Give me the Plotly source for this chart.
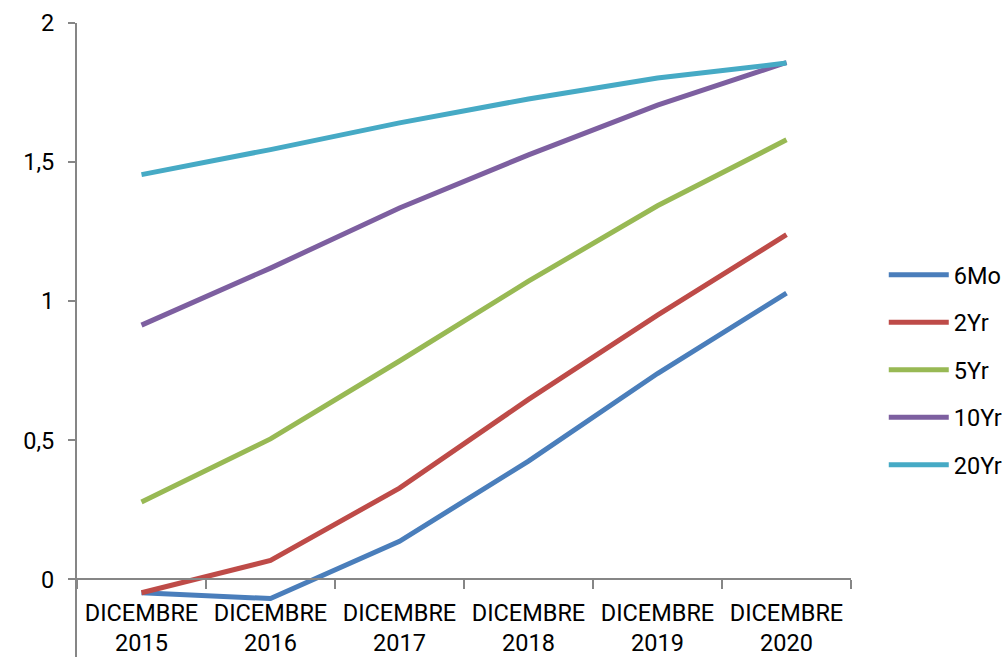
import plotly.graph_objects as go

# Yield curve snapshots, end of each year
categories = ["DICEMBRE<br>2015", "DICEMBRE<br>2016", "DICEMBRE<br>2017",
              "DICEMBRE<br>2018", "DICEMBRE<br>2019", "DICEMBRE<br>2020"]

series_names = ["6Mo", "2Yr", "5Yr", "10Yr", "20Yr"]
rate_6mo = [-0.048, -0.069, 0.137, 0.425, 0.74, 1.029]
rate_2yr = [-0.048, 0.068, 0.328, 0.647, 0.95, 1.239]
rate_5yr = [0.278, 0.505, 0.785, 1.072, 1.343, 1.58]
rate_10yr = [0.914, 1.119, 1.335, 1.526, 1.705, 1.858]
rate_20yr = [1.455, 1.545, 1.641, 1.727, 1.802, 1.856]

y_tick_vals = [0, 0.5, 1, 1.5, 2]
y_tick_text = ["0", "0,5", "1", "1,5", "2"]

colors = ["#4A7EBB", "#BE4B48", "#98B954", "#7D5FA0", "#46AAC5"]

y_min, y_max = -0.279, 2.0

fig = go.Figure()
for name, values, color in zip(series_names,
                               [rate_6mo, rate_2yr, rate_5yr, rate_10yr, rate_20yr],
                               colors):
    fig.add_trace(go.Scatter(
        x=categories, y=values, name=name, mode="lines",
        legendgroup=name,
        line=dict(color=color, width=5),
    ))

axis_gray = "#868686"
font_family = "Roboto, Liberation Sans, Arial, sans-serif"
font_size = 23.5

fig.update_layout(
    width=1002, height=657,
    margin=dict(l=77, r=151, t=23, b=0, autoexpand=False),
    paper_bgcolor="white", plot_bgcolor="white",
    font=dict(family=font_family, size=font_size, color="black"),
    showlegend=True,
    legend=dict(
        xref="container", yref="container",
        x=0.882, xanchor="left", y=0.437, yanchor="middle",
        font=dict(size=font_size, color="black"),
        tracegroupgap=14, itemwidth=60,
        bgcolor="rgba(0,0,0,0)",
    ),
    xaxis=dict(
        type="category", range=[-0.5, 5.5],
        anchor="free", position=(0 - y_min) / (y_max - y_min),
        showline=True, linecolor=axis_gray, linewidth=2,
        ticks="outside", tickson="boundaries", ticklen=9,
        tickcolor=axis_gray, tickwidth=2,
        ticklabelstandoff=12,
        showgrid=False, zeroline=False,
        tickfont=dict(size=font_size, color="black"),
    ),
    yaxis=dict(
        range=[y_min, y_max],
        tickvals=y_tick_vals, ticktext=y_tick_text,
        showline=True, linecolor=axis_gray, linewidth=2,
        ticks="outside", ticklen=7, tickcolor=axis_gray, tickwidth=2,
        ticklabelstandoff=9,
        showgrid=False, zeroline=False,
        tickfont=dict(size=font_size, color="black"),
    ),
)

fig.write_html("out.html")
